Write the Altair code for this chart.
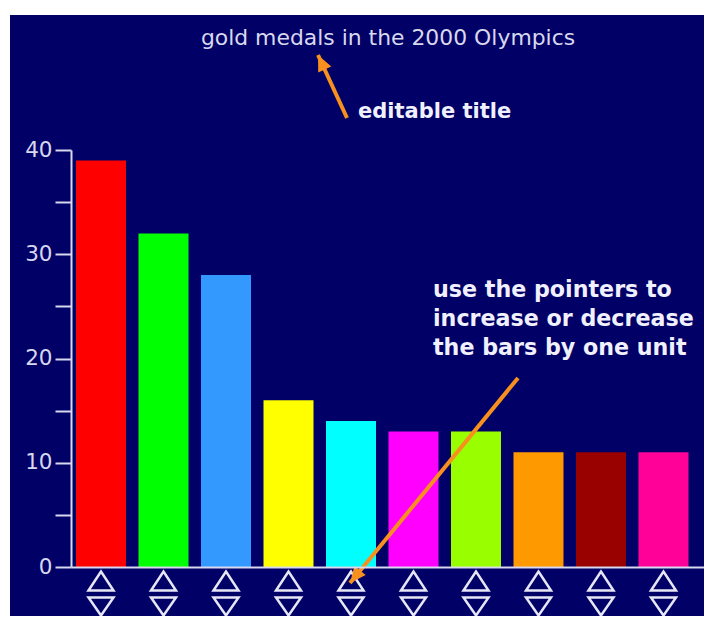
import altair as alt
import pandas as pd

# ---- data ----
categories = ["1", "2", "3", "4", "5", "6", "7", "8", "9", "10"]
gold_medals = [39, 32, 28, 16, 14, 13, 13, 11, 11, 11]
bar_colors = ["#FF0000", "#00FF00", "#3399FF", "#FFFF00", "#00FFFF",
              "#FF00FF", "#99FF00", "#FF9900", "#990000", "#FF0099"]
y_ticks = [0, 5, 10, 15, 20, 25, 30, 35, 40]
title_text = ["gold medals in the 2000 Olympics"]
note_title = ["editable title"]
note_pointers = ["use the pointers to\nincrease or decrease\nthe bars by one unit"]

NAVY = "#000066"
LAV = "#D8D8EE"
ORANGE = "#F7901E"
FONT = "DejaVu Sans"

df = pd.DataFrame({"cat": categories, "value": gold_medals})
one = pd.DataFrame({"k": [0]})

xscale = alt.Scale(domain=categories, paddingInner=0.2, paddingOuter=0.164, align=0.244)

background = alt.Chart(one).mark_rect(color=NAVY).encode(
    x=alt.value(-61), x2=alt.value(640), y=alt.value(-135), y2=alt.value(480)
)

bars = alt.Chart(df).mark_bar(size=50).encode(
    x=alt.X("cat:N", scale=xscale, sort=categories,
            axis=alt.Axis(labels=False, ticks=False, title=None, domainColor=LAV,
                          domainWidth=2, zindex=1)),
    y=alt.Y("value:Q", scale=alt.Scale(domain=[0, 40], nice=False),
            axis=alt.Axis(values=y_ticks, title=None, grid=False, zindex=1,
                          labelExpr="datum.value % 10 == 0 ? datum.label : ''",
                          tickSize=16, tickWidth=2, tickColor=LAV,
                          domainColor=LAV, domainWidth=2,
                          labelColor=LAV, labelFont=FONT, labelFontSize=21.5,
                          labelPadding=3)),
    color=alt.Color("cat:N", scale=alt.Scale(domain=categories, range=bar_colors),
                    legend=None),
)

UP = "M-1,0.76L0,-0.76L1,0.76Z"
DOWN = "M-1,-0.72L1,-0.72L0,0.72Z"

up_ptr = alt.Chart(df).mark_point(shape=UP, size=625, filled=False, color="#E6E6F6",
                                  strokeWidth=2.5, opacity=1).encode(
    x=alt.X("cat:N", scale=xscale, sort=categories), y=alt.value(431)
)
down_ptr = alt.Chart(df).mark_point(shape=DOWN, size=625, filled=False, color="#E6E6F6",
                                    strokeWidth=2.5, opacity=1).encode(
    x=alt.X("cat:N", scale=xscale, sort=categories), y=alt.value(456.5)
)

HEAD = "M0,0L-0.9,2L0.9,2Z"

def arrow(x1, y1, x2, y2, ang):
    line = alt.Chart(one).mark_rule(color=ORANGE, strokeWidth=4).encode(
        x=alt.value(x1), y=alt.value(y1), x2=alt.value(x2), y2=alt.value(y2))
    head = alt.Chart(one).mark_point(shape=HEAD, size=256, filled=True, color=ORANGE,
                                     opacity=1, angle=ang).encode(
        x=alt.value(x2), y=alt.value(y2))
    return line + head

arrow1 = arrow(276, -32, 247, -95, 335)
arrow2 = arrow(447, 228, 279, 433, 219)

title = alt.Chart(pd.DataFrame({"t": title_text})).mark_text(
    font=FONT, fontSize=21.9, fontWeight="normal", color=LAV,
    align="center", baseline="alphabetic").encode(
    text="t:N", x=alt.value(317), y=alt.value(-105))

txt1 = alt.Chart(pd.DataFrame({"t": note_title})).mark_text(
    font=FONT, fontSize=21, fontWeight="bold", color="#F0F0FF",
    align="left", baseline="alphabetic").encode(
    text="t:N", x=alt.value(287), y=alt.value(-32))

txt2 = alt.Chart(pd.DataFrame({"t": note_pointers})).mark_text(
    font=FONT, fontSize=22.2, fontWeight="bold", color="#F0F0FF",
    align="left", baseline="alphabetic", lineBreak="\n", lineHeight=29).encode(
    text="t:N", x=alt.value(362), y=alt.value(147))

chart = alt.layer(
    background, bars, up_ptr, down_ptr, arrow1, arrow2, title, txt1, txt2
).properties(
    width=633, height=417,
    autosize=alt.AutoSizeParams(type="none"),
    padding={"left": 63, "top": 142, "right": 0, "bottom": 49},
    background="white",
).configure_view(strokeWidth=0)

chart.save("out.html", embed_options={"renderer": "svg", "actions": False})
